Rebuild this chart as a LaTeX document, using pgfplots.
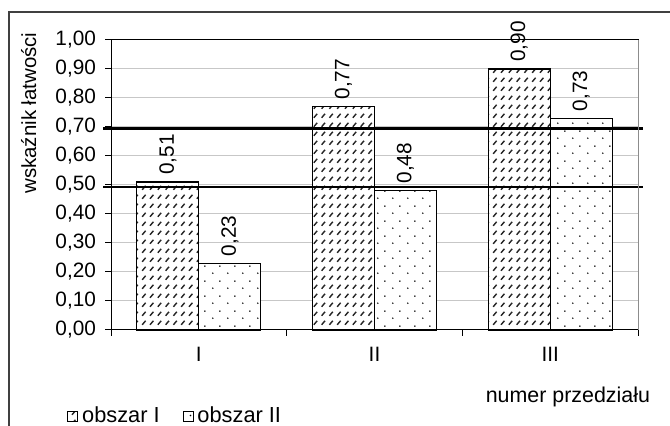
\documentclass[border=0pt]{standalone}
\usepackage{fontspec}
\setmainfont{Liberation Sans}
\usepackage{pgfplots}
\pgfplotsset{compat=1.18}
\usetikzlibrary{patterns}

\pgfdeclarepatternformonly{myhatch}{\pgfqpoint{0pt}{0pt}}{\pgfqpoint{4pt}{4.5pt}}{\pgfqpoint{3.9pt}{4.5pt}}{%
  \pgfsetlinewidth{0.7pt}%
  \pgfpathmoveto{\pgfqpoint{0.9pt}{1.1pt}}%
  \pgfpathlineto{\pgfqpoint{2.6pt}{3.1pt}}%
  \pgfusepath{stroke}}
\pgfdeclarepatternformonly{mydots}{\pgfqpoint{0pt}{0pt}}{\pgfqpoint{7.5pt}{7.5pt}}{\pgfqpoint{7.5pt}{7.5pt}}{%
  \pgfpathcircle{\pgfqpoint{1.5pt}{1.5pt}}{0.45pt}%
  \pgfpathcircle{\pgfqpoint{5.25pt}{5.25pt}}{0.45pt}%
  \pgfusepath{fill}}

\begin{document}
\begin{tikzpicture}
\useasboundingbox (0,0) rectangle (335pt,213pt);
\draw[black!75, line width=0.6pt] (4.5pt,-5pt) -- (4.5pt,207pt) -- (345pt,207pt);
\begin{axis}[
  at={(55.5pt,48pt)}, anchor=south west,
  scale only axis, width=263.5pt, height=145pt,
  xmin=-0.5, xmax=2.5, ymin=0, ymax=1,
  clip=false,
  axis line style={black, line width=0.5pt},
  tick align=outside, tick pos=left,
  major tick length=3pt,
  tick style={black, line width=0.5pt},
  xtick={-0.5,0.5,1.5,2.5}, xticklabels={},
  extra x ticks={0,1,2}, extra x tick labels={I,II,III},
  extra x tick style={major tick length=0pt, xticklabel style={yshift=-5pt}},
  ytick={0,0.1,0.2,0.3,0.4,0.5,0.6,0.7,0.8,0.9,1.0},
  yticklabel style={xshift=-1pt, /pgf/number format/.cd, fixed, fixed zerofill, precision=2, use comma},
  /pgf/number format/assume math mode=true,
  ymajorgrids, grid style={black!22, line width=0.5pt},
  ticklabel style={font=\fontsize{10.4}{12}\selectfont},
  xlabel={numer przedziału},
  xlabel style={at={(axis description cs:0.867,-0.231)}, anchor=center, font=\fontsize{10.7}{13}\selectfont},
  legend style={at={(axis description cs:-0.095,-0.297)}, anchor=west, draw=none, fill=none,
    legend columns=2, font=\fontsize{10.9}{13}\selectfont,
    /tikz/every even column/.append style={column sep=9.5pt}},
  legend image code/.code={\draw[#1, line width=0.4pt] (0pt,-2.5pt) rectangle (5pt,2.5pt);},
]
\addplot[ybar, bar width=31pt, bar shift=-15.5pt, fill=white, draw=black, line width=0.6pt,
  postaction={pattern=myhatch, pattern color=black!85},
  nodes near coords={\pgfmathprintnumber[fixed,fixed zerofill,precision=2,use comma,assume math mode=true]{\pgfplotspointmeta}},
  nodes near coords style={xshift=-15.5pt, rotate=90, anchor=west, font=\fontsize{10.4}{12}\selectfont, black}]
  coordinates {(0,0.51) (1,0.77) (2,0.90)};
\addlegendentry{obszar I}
\addplot[ybar, bar width=31pt, bar shift=15.5pt, fill=white, draw=black, line width=0.6pt,
  postaction={pattern=mydots, pattern color=black},
  nodes near coords={\pgfmathprintnumber[fixed,fixed zerofill,precision=2,use comma,assume math mode=true]{\pgfplotspointmeta}},
  nodes near coords style={xshift=15.5pt, rotate=90, anchor=west, font=\fontsize{10.4}{12}\selectfont, black}]
  coordinates {(0,0.23) (1,0.48) (2,0.73)};
\addlegendentry{obszar II}
\addplot[sharp plot, black, line width=1.1pt, forget plot] coordinates {(-0.5455,0.695) (2.528,0.695)};
\addplot[sharp plot, black, line width=1.1pt, forget plot] coordinates {(-0.5455,0.494) (2.528,0.494)};
\draw[black!45, line width=0.5pt] (rel axis cs:1,0) -- (rel axis cs:1,1);
\end{axis}
\node[rotate=90, font=\fontsize{10.2}{12}\selectfont, inner sep=0pt] at (14.3pt,156.5pt) {wskaźnik łatwości};
\end{tikzpicture}
\end{document}
